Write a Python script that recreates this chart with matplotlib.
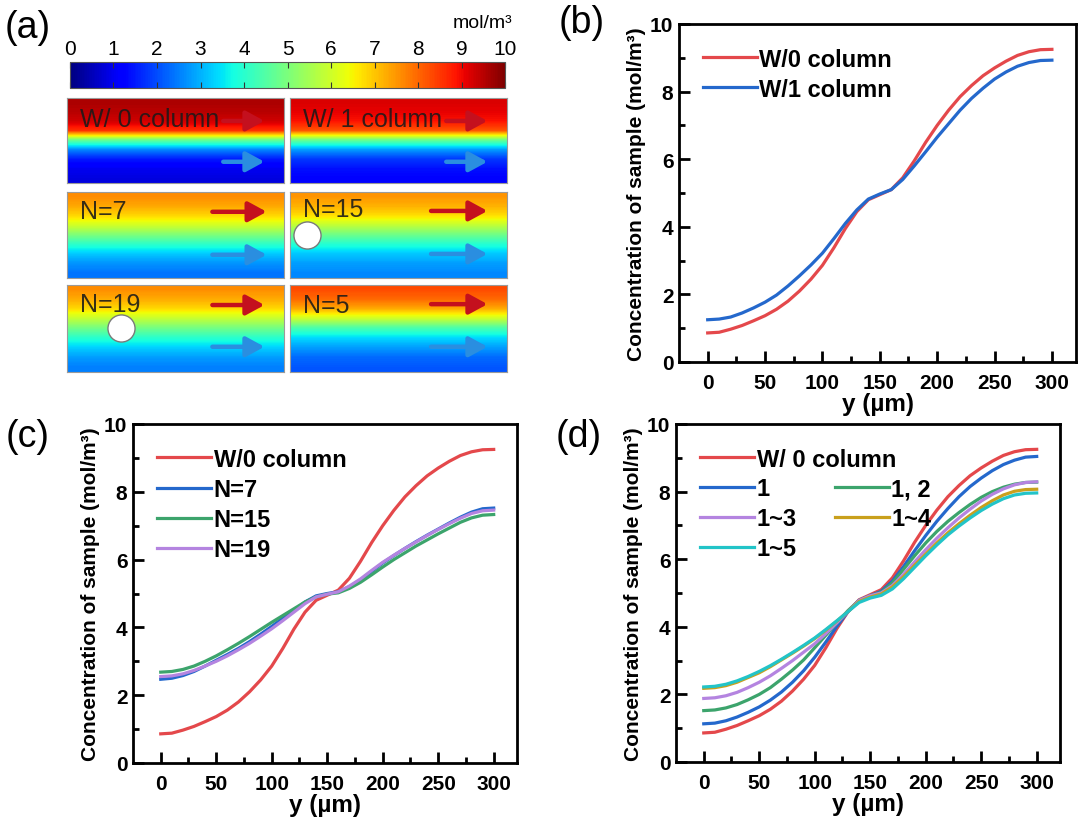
import numpy as np
import matplotlib
matplotlib.use('Agg')
import matplotlib.pyplot as plt
from matplotlib.colors import Normalize
from matplotlib.cm import ScalarMappable

plt.rcParams['font.family'] = ['Liberation Sans', 'DejaVu Sans']

# ---- line data: concentration (mol/m3) vs y (um) ----
y_um = list(range(0, 301, 10))

w0_column = [0.86, 0.88, 0.97, 1.08, 1.22, 1.37, 1.56, 1.80, 2.10, 2.45, 2.86,
             3.38, 3.95, 4.45, 4.80, 4.95, 5.10, 5.45, 5.95, 6.50, 7.00,
             7.45, 7.85, 8.18, 8.47, 8.70, 8.90, 9.07, 9.18, 9.24, 9.25]
w1_column = [1.25, 1.27, 1.33, 1.45, 1.60, 1.77, 1.98, 2.25, 2.55, 2.87, 3.22,
             3.65, 4.10, 4.50, 4.82, 4.97, 5.10, 5.40, 5.80, 6.22, 6.65,
             7.05, 7.45, 7.80, 8.10, 8.37, 8.58, 8.75, 8.86, 8.92, 8.93]

n7 = [2.47, 2.50, 2.58, 2.70, 2.86, 3.03, 3.20, 3.38, 3.58, 3.80, 4.03,
      4.27, 4.50, 4.75, 4.93, 5.00, 5.05, 5.20, 5.40, 5.65, 5.90,
      6.12, 6.33, 6.53, 6.72, 6.90, 7.08, 7.25, 7.40, 7.50, 7.52]
n15 = [2.68, 2.70, 2.76, 2.86, 3.00, 3.16, 3.34, 3.53, 3.73, 3.94, 4.15,
       4.35, 4.55, 4.75, 4.90, 4.98, 5.02, 5.15, 5.33, 5.55, 5.78,
       6.00, 6.20, 6.40, 6.58, 6.76, 6.93, 7.10, 7.23, 7.31, 7.33]
n19 = [2.55, 2.57, 2.63, 2.73, 2.86, 3.00, 3.16, 3.34, 3.53, 3.74, 3.96,
       4.20, 4.45, 4.70, 4.90, 4.98, 5.05, 5.22, 5.43, 5.68, 5.92,
       6.13, 6.33, 6.52, 6.71, 6.89, 7.06, 7.22, 7.36, 7.44, 7.46]

col_1 = [1.13, 1.15, 1.22, 1.33, 1.47, 1.63, 1.83, 2.07, 2.36, 2.70, 3.10,
         3.55, 4.02, 4.45, 4.78, 4.92, 5.05, 5.35, 5.78, 6.25, 6.70,
         7.12, 7.50, 7.85, 8.15, 8.40, 8.62, 8.80, 8.93, 9.02, 9.04]
col_1_2 = [1.52, 1.54, 1.60, 1.70, 1.84, 2.00, 2.20, 2.45, 2.72, 3.02, 3.38,
           3.75, 4.12, 4.48, 4.78, 4.92, 5.02, 5.30, 5.70, 6.10, 6.48,
           6.82, 7.12, 7.38, 7.62, 7.83, 8.00, 8.13, 8.22, 8.27, 8.28]
col_1_3 = [1.88, 1.90, 1.96, 2.06, 2.20, 2.36, 2.55, 2.77, 3.00, 3.25, 3.50,
           3.80, 4.12, 4.45, 4.78, 4.92, 5.00, 5.22, 5.55, 5.92, 6.28,
           6.62, 6.93, 7.22, 7.48, 7.72, 7.92, 8.08, 8.20, 8.27, 8.29]
col_1_4 = [2.18, 2.20, 2.26, 2.36, 2.50, 2.64, 2.82, 3.02, 3.22, 3.43, 3.65,
           3.90, 4.17, 4.45, 4.75, 4.88, 4.97, 5.18, 5.48, 5.82, 6.15,
           6.48, 6.78, 7.05, 7.30, 7.53, 7.73, 7.90, 8.01, 8.06, 8.07]
col_1_5 = [2.22, 2.24, 2.30, 2.40, 2.53, 2.68, 2.85, 3.04, 3.24, 3.45, 3.67,
           3.92, 4.18, 4.45, 4.72, 4.85, 4.93, 5.12, 5.42, 5.76, 6.10,
           6.42, 6.72, 6.98, 7.22, 7.44, 7.63, 7.79, 7.90, 7.95, 7.96]

# ---- panel (a): concentration profiles across the channel, top -> bottom ----
field_labels = ['W/ 0 column', 'W/ 1 column', 'N=7', 'N=15', 'N=19', 'N=5']
field_w0 = [9.6, 9.5, 9.3, 8.6, 4.8, 2.6, 1.5, 1.0, 0.85]
field_w1 = [9.2, 9.1, 8.9, 8.2, 4.8, 2.8, 1.8, 1.4, 1.25]
field_n7 = [7.6, 7.3, 6.8, 6.0, 5.0, 4.0, 3.2, 2.7, 2.4]
field_n15 = [7.5, 7.2, 6.7, 5.8, 4.8, 3.9, 3.2, 2.8, 2.6]
field_n19 = [7.6, 7.3, 6.8, 5.9, 4.9, 4.0, 3.3, 2.8, 2.5]
field_n5 = [8.3, 8.0, 7.3, 6.0, 4.4, 3.4, 2.8, 2.3, 2.1]
cbar_ticks = list(range(0, 11))

RED = '#e4484b'
BLUE = '#2468cc'
GREEN = '#3ca46c'
PURPLE = '#b484e0'
GOLD = '#c9a01c'
CYAN = '#22c4c8'

W, H = 1079, 829
fig = plt.figure(figsize=(W / 100, H / 100), dpi=100)


def rect(x0, y0, x1, y1):
    # pixel box (top-left origin) -> figure fraction
    return [x0 / W, 1 - y1 / H, (x1 - x0) / W, (y1 - y0) / H]


# colour bar
cax = fig.add_axes(rect(70, 63, 505, 89))
cb = fig.colorbar(ScalarMappable(Normalize(0, 10), cmap='jet'), cax=cax,
                  orientation='horizontal', ticks=cbar_ticks)
cax.xaxis.set_ticks_position('both')
cax.tick_params(axis='x', direction='in', length=4, width=0.8, color='#333333',
                labeltop=True, labelbottom=False, labelsize=15, pad=3)
cb.outline.set_linewidth(0.8)
cb.outline.set_edgecolor('#555555')
fig.text(512 / W, 1 - 23 / H, 'mol/m³', ha='right', va='center', fontsize=14)

# field maps
field_rects = [(67, 99, 284, 184), (290, 99, 507, 184),
               (67, 193, 284, 279), (290, 193, 507, 279),
               (67, 286, 284, 373), (290, 286, 507, 373)]
profiles = [field_w0, field_w1, field_n7, field_n15, field_n19, field_n5]
arrow_x = [(0.72, 0.91), (0.72, 0.91), (0.67, 0.92), (0.65, 0.91), (0.67, 0.91), (0.65, 0.91)]
arrow_y = [(0.73, 0.25), (0.73, 0.25), (0.77, 0.27), (0.78, 0.28), (0.77, 0.29), (0.78, 0.29)]
text_y = [0.75, 0.75, 0.78, 0.80, 0.78, 0.77]
circles = {3: (0.078, 0.50), 4: (0.249, 0.506)}

for i, (r, prof) in enumerate(zip(field_rects, profiles)):
    ax = fig.add_axes(rect(*r))
    img = np.tile(np.array(prof)[:, None], (1, 4))
    ax.imshow(img, cmap='jet', vmin=0, vmax=10, aspect='auto',
              extent=(0, 1, 0, 1), interpolation='bilinear')
    ax.set_xticks([])
    ax.set_yticks([])
    for s in ax.spines.values():
        s.set_linewidth(0.8)
        s.set_edgecolor('#9a9a9a')
    ax.text(0.06, text_y[i], field_labels[i], fontsize=18, color='#1a1a1a',
            alpha=0.88, ha='left', va='center')
    xa, xb = arrow_x[i]
    for yy, c in zip(arrow_y[i], ['#c4101e', '#2a8ee0']):
        ax.annotate('', xy=(xb, yy), xytext=(xa, yy),
                    arrowprops=dict(arrowstyle='-|>,head_length=0.55,head_width=0.3',
                                    color=c, lw=3.2, shrinkA=0, shrinkB=0,
                                    mutation_scale=20))
    if i in circles:
        cx, cy = circles[i]
        ax.plot(cx, cy, 'o', ms=19.5, mfc='white', mec='#7a7a7a', mew=1.0)
    ax.set_xlim(0, 1)
    ax.set_ylim(0, 1)


def style_axes(ax):
    ax.set_xlim(-25, 321)
    ax.set_ylim(0, 10)
    ax.set_xticks(range(0, 301, 50))
    ax.set_xticks(range(25, 300, 50), minor=True)
    ax.set_yticks(range(0, 11, 2))
    ax.set_yticks(range(1, 10, 2), minor=True)
    ax.tick_params(which='both', direction='in', width=2, labelsize=15)
    ax.tick_params(which='major', length=8)
    ax.tick_params(which='minor', length=4)
    ax.tick_params(axis='x', pad=8)
    ax.tick_params(axis='y', pad=4)
    for tl in ax.get_xticklabels() + ax.get_yticklabels():
        tl.set_fontweight('bold')
    for s in ax.spines.values():
        s.set_linewidth(2)
    ax.set_xlabel('y (µm)', fontsize=17.5, fontweight='bold', labelpad=0)
    ax.set_ylabel('Concentration of sample (mol/m³)', fontsize=15, fontweight='bold', labelpad=3)


leg_kw = dict(loc='upper left', frameon=False, prop=dict(weight='bold', size=17),
              handlelength=2.3, handletextpad=0.1, labelspacing=0.3,
              borderpad=0, borderaxespad=0)
LW = 2.3

# (b)
axb = fig.add_axes(rect(679, 25, 1076, 363))
axb.plot(y_um, w0_column, color=RED, lw=LW, label='W/0 column')
axb.plot(y_um, w1_column, color=BLUE, lw=LW, label='W/1 column')
style_axes(axb)
axb.legend(bbox_to_anchor=(0.06, 0.93), **leg_kw)

# (c)
axc = fig.add_axes(rect(133, 425, 517, 764))
axc.plot(y_um, w0_column, color=RED, lw=LW, label='W/0 column')
axc.plot(y_um, n7, color=BLUE, lw=LW, label='N=7')
axc.plot(y_um, n15, color=GREEN, lw=LW, label='N=15')
axc.plot(y_um, n19, color=PURPLE, lw=LW, label='N=19')
style_axes(axc)
axc.legend(bbox_to_anchor=(0.0625, 0.93), **leg_kw)

# (d)
axd = fig.add_axes(rect(676, 425, 1060, 763))
h0, = axd.plot(y_um, w0_column, color=RED, lw=LW)
h1, = axd.plot(y_um, col_1, color=BLUE, lw=LW)
h2, = axd.plot(y_um, col_1_2, color=GREEN, lw=LW)
h3, = axd.plot(y_um, col_1_3, color=PURPLE, lw=LW)
h4, = axd.plot(y_um, col_1_4, color=GOLD, lw=LW)
h5, = axd.plot(y_um, col_1_5, color=CYAN, lw=LW)
style_axes(axd)
leg1 = axd.legend([h0], ['W/ 0 column'], bbox_to_anchor=(0.0625, 0.93), **leg_kw)
axd.add_artist(leg1)
axd.legend([h1, h3, h5, h2, h4], ['1', '1~3', '1~5', '1, 2', '1~4'], ncol=2,
           columnspacing=1.6, bbox_to_anchor=(0.0625, 0.843), **leg_kw)

# panel letters
for lab, (px, py) in zip(['(a)', '(b)', '(c)', '(d)'],
                         [(28, 28), (582, 23), (28, 437), (579, 437)]):
    fig.text(px / W, 1 - py / H, lab, fontsize=27, ha='center', va='center')

fig.savefig('out.png', dpi=100)
